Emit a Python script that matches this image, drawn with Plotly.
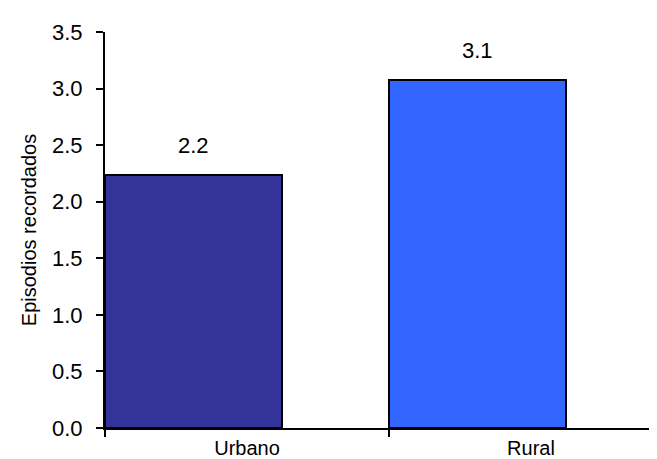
import plotly.graph_objects as go

categories = ["Urbano", "Rural"]
values = [2.24, 3.08]
value_labels = ["2.2", "3.1"]
colors = ["#333399", "#3366FF"]
y_ticks = [0.0, 0.5, 1.0, 1.5, 2.0, 2.5, 3.0, 3.5]

FONT = "Liberation Sans, Arial, sans-serif"
bar_w = 0.623
xs = list(range(len(categories)))

fig = go.Figure()
fig.add_trace(go.Bar(
    x=xs, y=values, width=[bar_w] * len(xs), offset=0,
    marker=dict(color=colors, line=dict(color="black", width=2)),
    showlegend=False, hoverinfo="skip",
))

for i, (v, t) in enumerate(zip(values, value_labels)):
    fig.add_annotation(x=i + bar_w / 2, y=v, text=t, showarrow=False,
                       yanchor="bottom", yshift=15,
                       font=dict(family=FONT, size=22, color="black"))

fig.update_layout(
    width=657, height=459,
    margin=dict(l=97, r=0, t=24, b=39),
    paper_bgcolor="white", plot_bgcolor="white",
    font=dict(family=FONT, color="black"),
    bargap=0,
)
fig.update_xaxes(
    range=[0, 560 / 284], showgrid=False, zeroline=False,
    showline=True, linecolor="black", linewidth=2,
    tickvals=[i + 0.5 for i in xs], ticktext=categories, ticks="",
    tickfont=dict(family=FONT, size=20, color="black"),
    ticklabelstandoff=1,
    minor=dict(tickvals=[0, 1, 2], ticks="outside", ticklen=7, tickwidth=2, tickcolor="black"),
)
fig.update_yaxes(
    range=[0, 3.5], tickvals=y_ticks, tickformat=".1f",
    showgrid=False, zeroline=False,
    showline=True, linecolor="black", linewidth=2,
    ticks="outside", ticklen=7, tickwidth=2, tickcolor="black",
    tickfont=dict(family=FONT, size=22, color="black"),
    ticklabelstandoff=9,
    title=dict(text="Episodios recordados", font=dict(family=FONT, size=20, color="black"), standoff=10),
)

fig.write_html("out.html")
